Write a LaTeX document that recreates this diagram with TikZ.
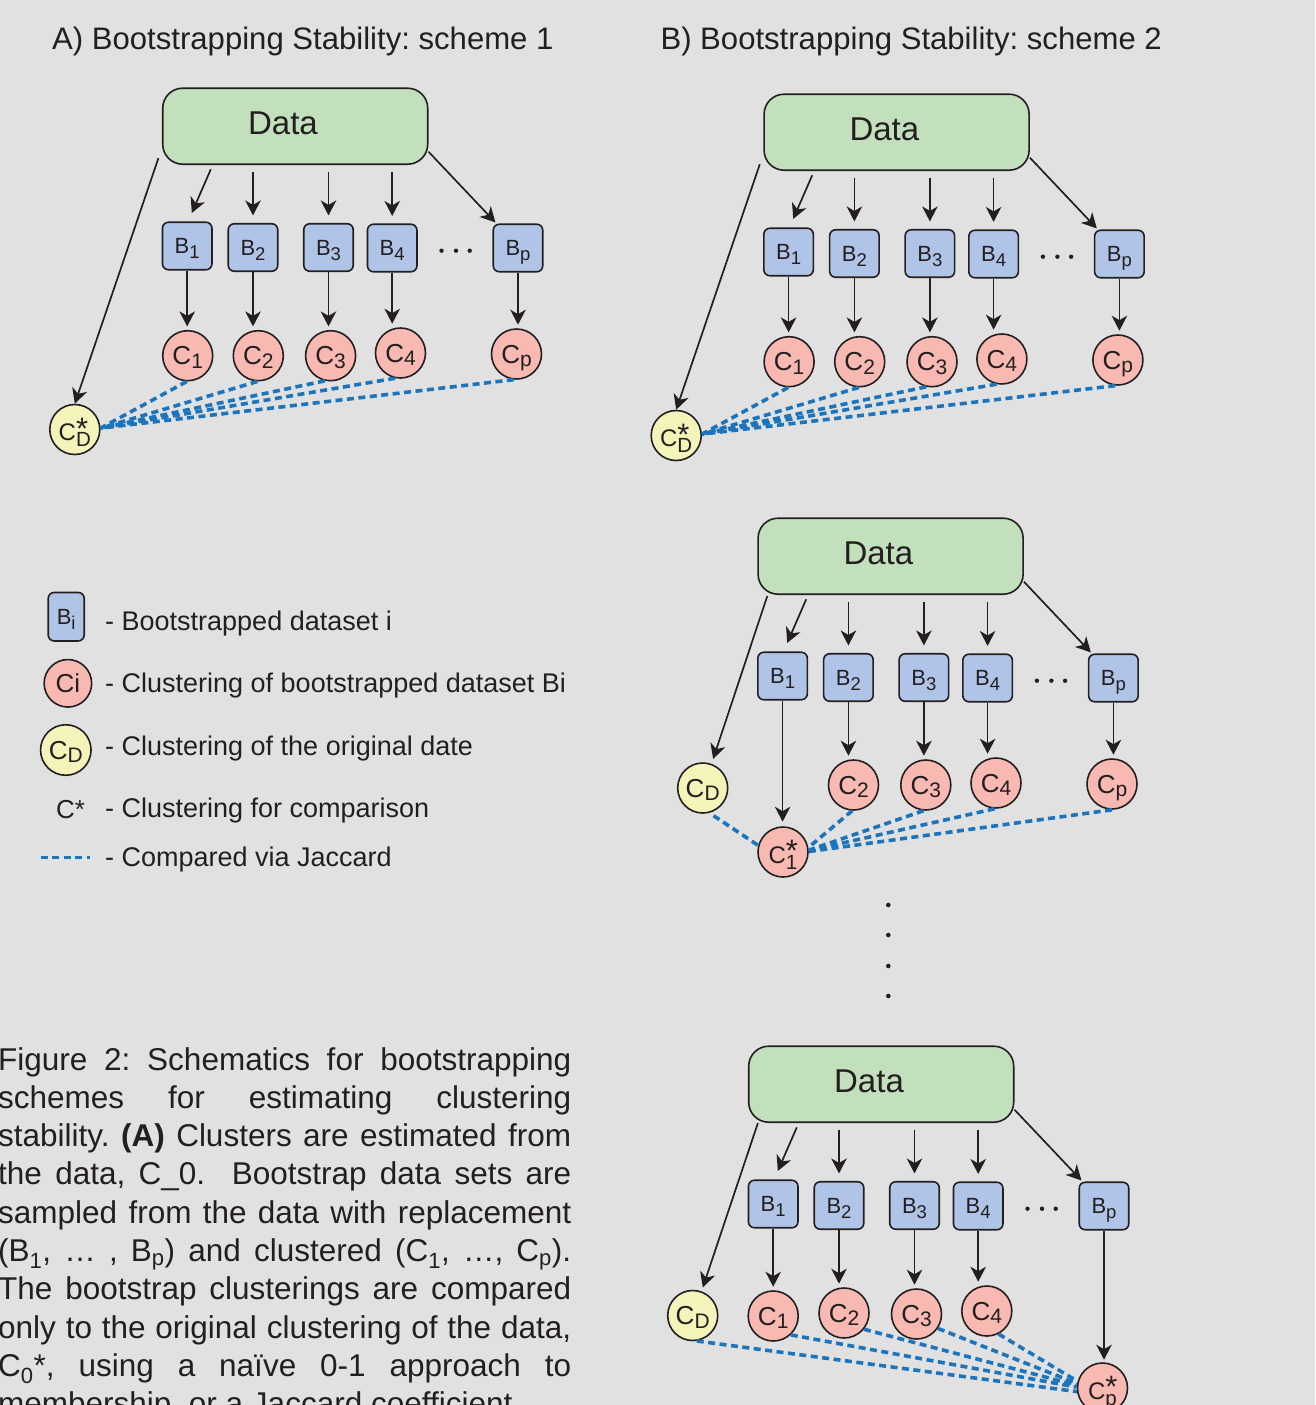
\documentclass[tikz,border=0pt]{standalone}
\usepackage{fontspec}
\setmainfont{Liberation Sans}
\usetikzlibrary{arrows.meta,calc}
\definecolor{bgc}{HTML}{E1E1E1}
\definecolor{datac}{HTML}{C2E0BC}
\definecolor{bc}{HTML}{AFC4E6}
\definecolor{cc}{HTML}{F7B9B1}
\definecolor{yc}{HTML}{F4F4BA}
\definecolor{jc}{HTML}{1C75BC}
\definecolor{ink}{HTML}{231F20}
\frenchspacing

\newcommand\bsub[2]{#1\raisebox{-5pt}{\fontsize{18.5}{18.5}\selectfont #2}}
\newcommand\csub[2]{#1\raisebox{-3.5pt}{\fontsize{21}{21}\selectfont #2}}
\newcommand\cstr[1]{{\fontsize{24}{24}\selectfont C\rlap{\raisebox{1.5pt}{\fontsize{31}{31}\selectfont *}}\raisebox{-6pt}{\fontsize{20.5}{20.5}\selectfont #1}}}

\tikzset{
  every node/.style={text=ink},
  databox/.style={draw=ink, line width=1.6pt, fill=datac, rounded corners=20pt,
    minimum width=265pt, minimum height=76pt, inner sep=0pt},
  datatext/.style={font=\fontsize{33}{33}\selectfont, inner sep=0pt, text depth=0pt},
  bbox/.style={draw=ink, line width=1.6pt, fill=bc, rounded corners=6pt,
    minimum width=49.5pt, minimum height=47.5pt, inner sep=0pt, text depth=0pt,
    font=\fontsize{22}{22}\selectfont},
  cnode/.style={circle, draw=ink, line width=1.6pt, fill=cc, minimum size=50pt,
    inner sep=0pt, text depth=0pt, font=\fontsize{26}{26}\selectfont},
  ynode/.style={cnode, fill=yc},
  arr/.style={draw=ink, line width=1.7pt, -{Stealth[length=15pt,width=15.5pt,inset=4.5pt]}},
  jac/.style={draw=jc, line width=3.6pt, dash pattern=on 7pt off 4.5pt},
  legtext/.style={font=\fontsize{27}{32}\selectfont, inner sep=0pt, anchor=base west},
  titletext/.style={font=\fontsize{31.1}{36}\selectfont, inner sep=0pt, anchor=base west},
}

% upper part of a panel: Data box, bootstrap boxes, arrows
\newcommand\upperpart[1]{%
  \node[databox] (#1data) at (295.2,126.2) {};
  \node[datatext] (#1dlbl) at (283,123.5) {Data};
  \node[bbox] (#1b1) at (187.2,246) {\bsub{B}{1}};
  \node[bbox] (#1b2) at (253,247.5) {\bsub{B}{2}};
  \node[bbox] (#1b3) at (328.5,247.5) {\bsub{B}{3}};
  \node[bbox] (#1b4) at (392.2,248) {\bsub{B}{4}};
  \node[bbox] (#1bp) at (518,248) {\bsub{B}{p}};
  \foreach \xx in {441.5,456,469.7} \fill[ink] (\xx,250.7) circle (2.2pt);
  \draw[arr] ($(#1b1.north |- #1data.south)+(23.6,4.3)$) -- ($(#1b1.north)+(4.6,-8.5)$);
  \foreach \bb in {b2,b3,b4}
    \draw[arr] ($(#1\bb.north |- #1data.south)+(0,6.5)$) -- ($(#1\bb.north)+(0,-7.5)$);
  \draw[arr] ([yshift=-25.5pt]#1data.east) -- ($(#1bp.north west)+(3,-1)$);
}

% lower part of scheme 1 (used by panel A and the first panel of B)
\newcommand\lowerone[1]{%
  \node[cnode] (#1c1) at (187.7,355.7) {\csub{C}{1}};
  \node[cnode] (#1c2) at (258.3,355.7) {\csub{C}{2}};
  \node[cnode] (#1c3) at (330.6,355.7) {\csub{C}{3}};
  \node[cnode] (#1c4) at (400.5,353) {\csub{C}{4}};
  \node[cnode] (#1cp) at (516.5,354) {\csub{C}{p}};
  \node[ynode] (#1cd) at (74.8,429.5) {\cstr{D}};
  \draw[arr] ([xshift=-3.5pt,yshift=-32pt]#1data.west) -- (#1cd.north);
  \foreach \k in {1,2,3,4,p}
    \draw[arr,shorten >=3.5pt] (#1b\k.south) -- (#1b\k.south |- #1c\k.north);
  \draw[jac] (#1c1.-92) -- (#1cd.3);
  \draw[jac] (#1c2.-92) -- (#1cd.3);
  \draw[jac] (#1c3.-103) -- (#1cd.3);
  \draw[jac] (#1c4.-102) -- (#1cd.3);
  \draw[jac] (#1cp.-96) -- (#1cd.3);
}

\begin{document}
\begin{tikzpicture}[x=1pt,y=-1pt]
\useasboundingbox (0,0) rectangle (1315,1405);
\fill[bgc] (0,0) rectangle (1315,1405);

% titles
\node[titletext] (titA) at (52,49.3) {A) Bootstrapping Stability: scheme 1};
\node[titletext] (titB) at (660.3,49) {B) Bootstrapping Stability: scheme 2};

% ---------- Panel A ----------
\begin{scope}
  \upperpart{A}
  \lowerone{A}
\end{scope}

% ---------- Panel B, top ----------
\begin{scope}[shift={(601.4,6)}]
  \upperpart{T}
  \lowerone{T}
\end{scope}

% ---------- Panel B, middle ----------
\begin{scope}[shift={(595.4,430)}]
  \upperpart{M}
  \node[cnode] (Mc2) at (258.1,355) {\csub{C}{2}};
  \node[cnode] (Mc3) at (330.4,355) {\csub{C}{3}};
  \node[cnode] (Mc4) at (400.6,353) {\csub{C}{4}};
  \node[cnode] (Mcp) at (516.6,354) {\csub{C}{p}};
  \node[cnode] (Mc1) at (187.6,422) {\cstr{1}};
  \node[ynode] (Mcd) at (107.3,358) {\csub{C}{D}};
  \draw[arr,shorten >=4.5pt] (Mb1.south) -- (Mb1.south |- Mc1.north);
  \foreach \k in {2,3,4,p}
    \draw[arr,shorten >=3.5pt] (Mb\k.south) -- (Mb\k.south |- Mc\k.north);
  \draw[arr,shorten >=5pt] ($(Mdata.south west)+(10,1)$) -- (Mcd.70);
  \draw[jac,shorten <=5pt] (Mcd.-75) -- (Mc1.165);
  \draw[jac] (Mc2.-93) -- (Mc1.10);
  \draw[jac] (Mc3.-95) -- (Mc1.4);
  \draw[jac] (Mc4.-93) -- (Mc1.3);
  \draw[jac] (Mcp.-90) -- (Mc1.1);
\end{scope}

% vertical ellipsis
\foreach \yy in {905,935,966,996} \fill[ink] (888.3,\yy) circle (2.3pt);

% ---------- Panel B, bottom ----------
\begin{scope}[shift={(586,958)}]
  \upperpart{L}
  \node[ynode] (Lcd) at (106.7,357.5) {\csub{C}{D}};
  \node[cnode] (Lc1) at (187.2,358) {\csub{C}{1}};
  \node[cnode] (Lc2) at (258,355) {\csub{C}{2}};
  \node[cnode] (Lc3) at (330.5,356) {\csub{C}{3}};
  \node[cnode] (Lc4) at (400.8,353) {\csub{C}{4}};
  \node[cnode] (Lcp) at (516.5,430) {\cstr{p}};
  \foreach \k in {1,2,3,4}
    \draw[arr,shorten >=3.5pt] (Lb\k.south) -- (Lb\k.south |- Lc\k.north);
  \draw[arr,shorten >=2.5pt] (Lbp.south) -- (Lbp.south |- Lcp.north);
  \draw[arr,shorten >=4pt] ($(Ldata.south west)+(10,0)$) -- (Lcd.70);
  \draw[jac] (Lcd.-81) -- (Lcp.188);
  \draw[jac] (Lc1.-47) -- (Lcp.178);
  \draw[jac] (Lc2.-39) -- (Lcp.174);
  \draw[jac] (Lc3.-34) -- (Lcp.170);
  \draw[jac] (Lc4.-63) -- (Lcp.165);
\end{scope}

% ---------- Legend ----------
\node[bbox, minimum width=36pt, minimum height=48.5pt] (legb) at (66.2,616.7) {\bsub{B}{i}};
\node[cnode, minimum size=47.5pt] (legc) at (67.9,683.3) {Ci};
\node[ynode, minimum size=50.5pt] (legcd) at (65.8,750) {\csub{C}{D}};
\node[font=\fontsize{26}{26}\selectfont, inner sep=0pt] (legcs) at (70.5,810) {C*};
\coordinate (legj1) at (40.7,857.3);
\coordinate (legj2) at (89.6,857.3);
\draw[jac] (legj1) -- (legj2);
\node[legtext] (lt1) at (105,630) {- Bootstrapped dataset i};
\node[legtext] (lt2) at (105,692) {- Clustering of bootstrapped dataset Bi};
\node[legtext] (lt3) at (105,755) {- Clustering of the original date};
\node[legtext] (lt4) at (105,817.5) {- Clustering for comparison};
\node[legtext] (lt5) at (105,866) {- Compared via Jaccard};

% ---------- Caption ----------
\node[anchor=base west, text width=573pt, align=justify, inner sep=0pt,
      font=\fontsize{31.5}{38.3}\selectfont] (cap) at (-2,1070)
  {Figure 2: Schematics for bootstrapping\linebreak
   schemes for estimating clustering\linebreak
   stability. \textbf{(A)} Clusters are estimated from\linebreak
   the data, C\_0.\ \ Bootstrap data sets are\linebreak
   sampled from the data with replacement\linebreak
   (B\textsubscript{1}, … , B\textsubscript{p}) and clustered (C\textsubscript{1}, …, C\textsubscript{p}).\linebreak
   The bootstrap clusterings are compared\linebreak
   only to the original clustering of the data,\linebreak
   C\textsubscript{0}*, using a naïve 0-1 approach to\linebreak
   membership, or a Jaccard coefficient.};
\end{tikzpicture}
\end{document}
